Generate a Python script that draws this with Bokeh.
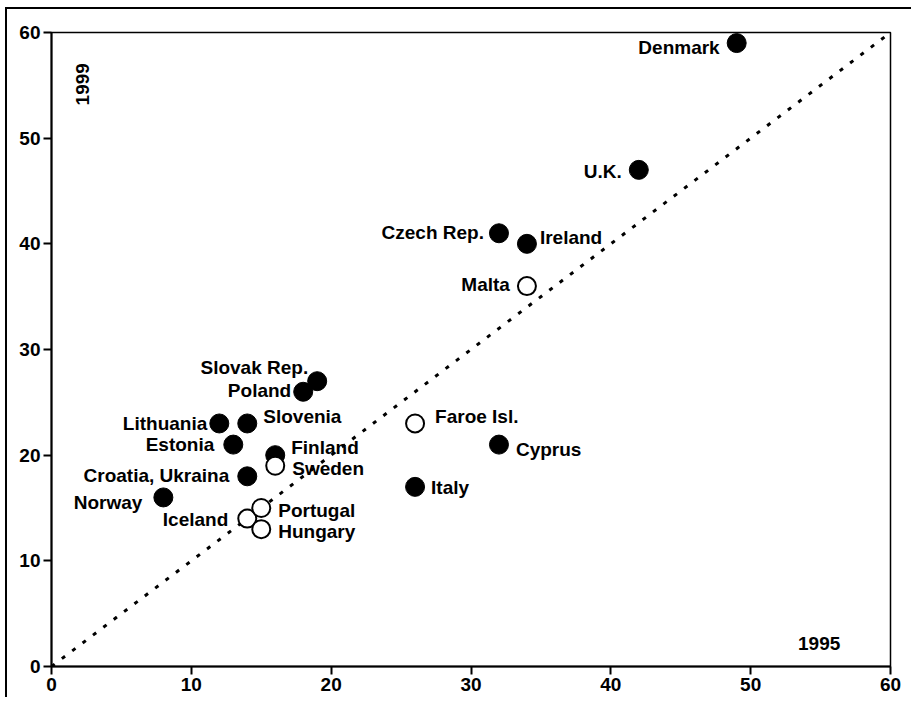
from bokeh.plotting import figure
from bokeh.models import Range1d, FixedTicker, ColumnDataSource, Label
from bokeh.core.properties import value
from bokeh.embed import file_html
from bokeh.resources import INLINE

countries = ["Denmark", "U.K.", "Czech Rep.", "Ireland", "Malta", "Slovak Rep.", "Poland",
             "Lithuania", "Slovenia", "Estonia", "Finland", "Sweden", "Croatia, Ukraina",
             "Norway", "Iceland", "Portugal", "Hungary", "Faroe Isl.", "Cyprus", "Italy"]
y1995 = [49, 42, 32, 34, 34, 19, 18, 12, 14, 13, 16, 16, 14, 8, 14, 15, 15, 26, 32, 26]
y1999 = [59, 47, 41, 40, 36, 27, 26, 23, 23, 21, 20, 19, 18, 16, 14, 15, 13, 23, 21, 17]
is_open = [False, False, False, False, True, False, False, False, False, False, False, True,
           False, False, True, True, True, True, False, False]
x_ticks = [0, 10, 20, 30, 40, 50, 60]
y_ticks = [0, 10, 20, 30, 40, 50, 60]

# label placement (screen pixels), layout only
lab_align = {"Denmark": "right", "U.K.": "right", "Czech Rep.": "right", "Ireland": "left",
             "Malta": "right", "Slovak Rep.": "right", "Poland": "right", "Lithuania": "right",
             "Slovenia": "left", "Estonia": "right", "Finland": "left", "Sweden": "left",
             "Croatia, Ukraina": "right", "Norway": "right", "Iceland": "right",
             "Portugal": "left", "Hungary": "left", "Faroe Isl.": "left", "Cyprus": "left",
             "Italy": "left"}
lab_dx = {"Denmark": -17, "U.K.": -17, "Czech Rep.": -15, "Ireland": 13, "Malta": -17,
          "Slovak Rep.": -9, "Poland": -12, "Lithuania": -12, "Slovenia": 16, "Estonia": -19,
          "Finland": 16, "Sweden": 17, "Croatia, Ukraina": -18, "Norway": -21, "Iceland": -19,
          "Portugal": 17, "Hungary": 17, "Faroe Isl.": 20, "Cyprus": 17, "Italy": 16}
lab_dy = {"Denmark": 4, "U.K.": 2, "Czech Rep.": -1, "Ireland": -6, "Malta": -2,
          "Slovak Rep.": -14, "Poland": -1, "Lithuania": 0, "Slovenia": -7, "Estonia": 0,
          "Finland": -8, "Sweden": 3, "Croatia, Ukraina": -1, "Norway": 5, "Iceland": 1,
          "Portugal": 2, "Hungary": 2, "Faroe Isl.": -7, "Cyprus": 5, "Italy": 1}

FONT = "Liberation Sans"

p = figure(width=906, height=690, output_backend="svg", toolbar_location=None,
           x_range=Range1d(0, 60), y_range=Range1d(0, 60),
           min_border_left=44, min_border_right=23, min_border_top=23, min_border_bottom=33)
p.styles = {"border-top": "2px solid black", "border-left": "2px solid black",
            "margin-left": "5px", "margin-top": "7px"}
p.grid.visible = False
p.outline_line_color = "black"
p.outline_line_width = 1.5
p.background_fill_color = "white"
p.border_fill_color = "white"

for ax, ticks in ((p.xaxis, x_ticks), (p.yaxis, y_ticks)):
    ax.ticker = FixedTicker(ticks=ticks)
    ax.minor_tick_line_color = None
    ax.major_tick_in = 0
    ax.major_tick_out = 8
    ax.major_tick_line_width = 2
    ax.axis_line_width = 2
    ax.axis_line_color = "black"
    ax.major_tick_line_color = "black"
    ax.major_label_text_font = FONT
    ax.major_label_text_font_size = "19px"
    ax.major_label_text_font_style = "bold"
    ax.major_label_text_color = "black"
p.xaxis.major_label_standoff = 3
p.yaxis.major_label_standoff = 3

# diagonal reference line
p.line(x=[x_ticks[0], x_ticks[-1]], y=[y_ticks[0], y_ticks[-1]], line_color="black",
       line_width=3, line_dash="4 9")

filled = ColumnDataSource(dict(
    x=[x for x, o in zip(y1995, is_open) if not o],
    y=[y for y, o in zip(y1999, is_open) if not o]))
opened = ColumnDataSource(dict(
    x=[x for x, o in zip(y1995, is_open) if o],
    y=[y for y, o in zip(y1999, is_open) if o]))
p.scatter("x", "y", source=filled, size=19, fill_color="black", line_color="black")
p.scatter("x", "y", source=opened, size=18, fill_color="white", line_color="black",
          line_width=2)

labels = ColumnDataSource(dict(
    x=y1995, y=y1999, t=countries,
    align=[lab_align[c] for c in countries],
    dx=[lab_dx[c] for c in countries],
    dy=[lab_dy[c] for c in countries]))
p.text("x", "y", text="t", source=labels, x_offset="dx", y_offset="dy",
       text_align="align", text_baseline="middle", text_font=value(FONT),
       text_font_size="19px", text_font_style="bold", text_color="black")

p.add_layout(Label(x=2.2, y=55.1, text="1999", angle=1.5708, text_align="center",
                   text_baseline="middle", text_font=FONT, text_font_size="19px",
                   text_font_style="bold", text_color="black"))
p.add_layout(Label(x=54.9, y=2.2, text="1995", text_align="center",
                   text_baseline="middle", text_font=FONT, text_font_size="19px",
                   text_font_style="bold", text_color="black"))

open("out.html", "w").write(file_html(p, INLINE))
